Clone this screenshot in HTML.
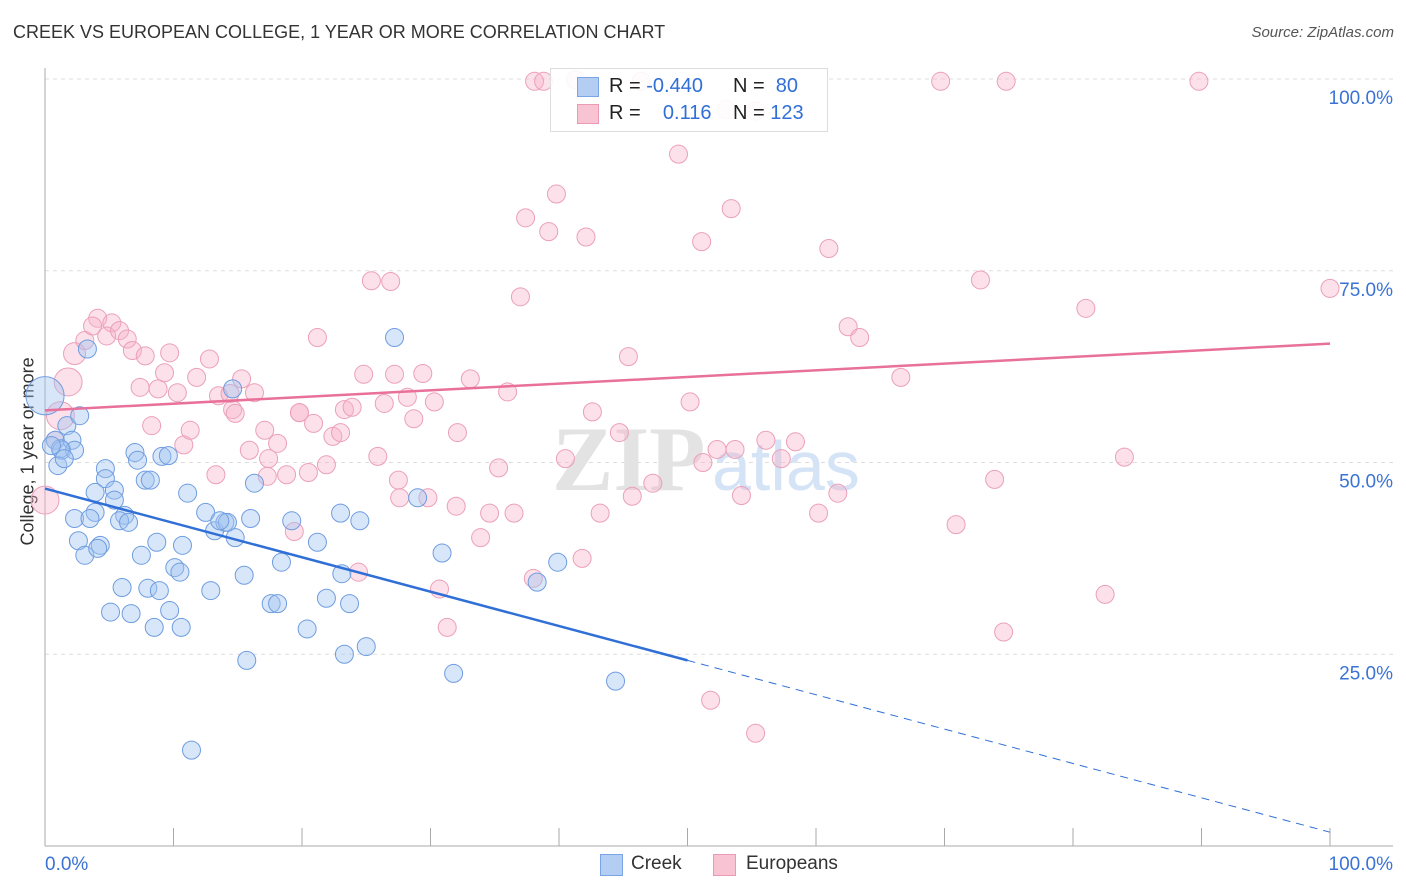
<!DOCTYPE html>
<html><head><meta charset="utf-8">
<style>
body{margin:0;background:#fff;font-family:"Liberation Sans",sans-serif;}
#wrap{position:relative;width:1406px;height:892px;overflow:hidden;}
.t{position:absolute;white-space:nowrap;}
</style></head>
<body>
<div id="wrap">
<div class="t" style="left:13px;top:22px;font-size:18px;color:#333;">CREEK VS EUROPEAN COLLEGE, 1 YEAR OR MORE CORRELATION CHART</div>
<div class="t" style="right:12px;top:24px;font-size:15px;color:#555;font-style:italic;">Source: ZipAtlas.com</div>
<div class="t" style="left:-62px;top:445px;font-size:18px;color:#333;transform:rotate(-90deg);transform-origin:center;width:180px;text-align:center;">College, 1 year or more</div>
<svg id="plot" width="1406" height="892" style="position:absolute;left:0;top:0"></svg>
<div style="position:absolute;left:550px;top:68px;width:276px;height:62px;border:1px solid #ddd;background:rgba(255,255,255,0.9);font-size:20px;">
 <div style="position:absolute;left:26px;top:8px;width:20px;height:18px;background:#b4cdf2;border:1px solid #7aa4e4;"></div>
 <div class="t" style="left:58px;top:6px;color:#222;">R = <span style="color:#2f6fd6">-0.440</span></div>
 <div class="t" style="left:182px;top:6px;color:#222;">N = <span style="color:#2f6fd6">&nbsp;80</span></div>
 <div style="position:absolute;left:26px;top:35px;width:20px;height:18px;background:#f8c4d4;border:1px solid #ec9ab4;"></div>
 <div class="t" style="left:58px;top:33px;color:#222;">R = <span style="color:#2f6fd6">&nbsp;&nbsp;&nbsp;0.116</span></div>
 <div class="t" style="left:182px;top:33px;color:#222;">N = <span style="color:#2f6fd6">123</span></div>
</div>
<div>
 <div style="position:absolute;left:600px;top:854px;width:21px;height:20px;background:#b4cdf2;border:1px solid #7aa4e4;"></div>
 <div class="t" style="left:631px;top:853px;font-size:19px;color:#333;">Creek</div>
</div>
<div>
 <div style="position:absolute;left:713px;top:854px;width:21px;height:20px;background:#f8c4d4;border:1px solid #ec9ab4;"></div>
 <div class="t" style="left:746px;top:853px;font-size:19px;color:#333;">Europeans</div>
</div>
</div>
<script>
const yTicks=[25,50,75,100];
const yTickLabels=["25.0%","50.0%","75.0%","100.0%"];
const xTickCount=10;
const creekX=[0,0.8,1.3,1.7,2.1,2.3,2.7,1.0,3.3,4.7,4.7,3.9,5.4,5.4,3.9,2.3,3.5,6.2,5.8,6.5,2.6,4.3,3.1,4.1,7.0,7.2,7.8,8.2,9.1,9.6,11.1,12.5,13.2,14.0,14.8,14.2,13.6,14.6,16.3,16.0,19.2,21.2,23.0,24.5,27.2,29.0,30.9,39.9,38.3,44.4,7.5,8.7,10.7,10.1,10.5,6.0,8.0,8.9,12.9,15.5,18.4,5.1,6.7,9.7,8.5,10.6,17.6,18.1,21.9,23.7,23.1,20.4,15.7,23.3,25.0,31.8,11.4,1.2,0.5,1.5];
const creekY=[58.7,52.9,51.6,54.8,52.9,51.6,56.1,49.6,64.8,49.2,47.9,46.1,46.4,45.1,43.5,42.7,42.7,43.1,42.4,42.2,39.8,39.2,37.9,38.8,51.3,50.3,47.7,47.7,50.8,50.9,46.0,43.5,41.1,42.2,40.2,42.2,42.4,59.6,47.3,42.7,42.4,39.6,43.4,42.4,66.3,45.4,38.2,37.0,34.4,21.5,37.9,39.6,39.2,36.3,35.7,33.7,33.6,33.3,33.3,35.3,37.0,30.5,30.3,30.7,28.5,28.5,31.6,31.6,32.3,31.6,35.5,28.3,24.2,25.0,26.0,22.5,12.5,51.8,52.2,50.5];
const creekW=[4.5,1,1,1,1,1,1,1,1,1,1,1,1,1,1,1,1,1,1,1,1,1,1,1,1,1,1,1,1,1,1,1,1,1,1,1,1,1,1,1,1,1,1,1,1,1,1,1,1,1,1,1,1,1,1,1,1,1,1,1,1,1,1,1,1,1,1,1,1,1,1,1,1,1,1,1,1,1,1,1];
const euroX=[0,1.8,2.3,1.2,0.8,3.1,4.1,3.7,5.2,4.8,5.8,6.4,6.8,7.8,9.7,7.4,8.8,9.3,10.3,11.8,12.8,13.5,14.4,15.3,16.3,8.3,10.8,11.3,14.6,14.8,13.3,15.9,17.4,18.1,17.3,18.8,19.4,19.8,21.2,20.9,20.5,21.9,22.4,23.0,23.3,23.9,24.8,25.4,26.9,26.4,25.9,27.2,28.2,28.7,27.5,27.6,29.4,30.3,29.8,32.1,32.0,33.1,33.9,34.6,35.3,36.0,36.5,37.0,37.4,38.0,38.1,38.8,39.2,39.8,40.5,41.3,41.8,42.1,42.6,43.2,44.7,45.4,45.7,46.4,47.3,49.3,50.2,51.1,51.2,51.8,52.3,53.0,53.4,53.7,54.2,55.3,56.1,57.3,58.4,60.2,61.0,61.7,62.5,63.4,66.6,69.7,70.9,72.8,73.9,74.8,74.6,81.0,82.5,84.0,89.8,100,30.7,31.3,24.4,55.3,17.1,19.8];
const euroY=[45.1,60.5,64.2,56.1,52.9,65.9,68.8,67.8,68.2,66.5,67.2,66.1,64.6,63.9,64.3,59.8,59.6,61.7,59.1,61.1,63.5,58.7,59.0,60.9,59.1,54.8,52.3,54.2,56.9,56.4,48.4,51.6,50.5,52.5,48.2,48.4,41.0,56.5,66.3,55.1,48.7,49.7,53.4,53.9,56.9,57.2,61.5,73.7,73.6,57.7,50.8,61.5,58.5,55.7,47.7,45.4,61.6,57.9,45.4,53.9,44.3,60.9,40.2,43.4,49.3,59.2,43.4,71.6,81.9,34.9,99.7,99.7,80.1,85.0,50.5,99.9,37.5,79.4,56.6,43.4,53.9,63.8,45.6,99.7,47.3,90.2,57.9,78.8,50.0,19.0,51.7,96.0,83.1,51.7,45.7,14.7,52.9,50.5,52.7,43.4,77.9,46.0,67.7,66.3,61.1,99.7,41.9,73.8,47.8,99.7,27.9,70.1,32.8,50.7,99.7,72.7,33.5,28.5,35.7,95.8,54.2,56.5];
const euroW=[2.4,2.4,1.5,2.4,1,1,1,1,1,1,1,1,1,1,1,1,1,1,1,1,1,1,1,1,1,1,1,1,1,1,1,1,1,1,1,1,1,1,1,1,1,1,1,1,1,1,1,1,1,1,1,1,1,1,1,1,1,1,1,1,1,1,1,1,1,1,1,1,1,1,1,1,1,1,1,1,1,1,1,1,1,1,1,1,1,1,1,1,1,1,1,1,1,1,1,1,1,1,1,1,1,1,1,1,1,1,1,1,1,1,1,1,1,1,1,1,1,1,1,1,1,1];
const creekTrend=[[0,46.6],[50,24.2],[100,1.8]];
const euroTrend=[[0,56.8],[100,65.5]];

const L=45,R=1330,T=79,B=846;
const sx=v=>L+(R-L)*v/100;
const sy=v=>B-(B-T)*v/100;
const svg=document.getElementById('plot');
const NS='http://www.w3.org/2000/svg';
function mk(tag,attrs){const e=document.createElementNS(NS,tag);for(const k in attrs)e.setAttribute(k,attrs[k]);svg.appendChild(e);return e;}

yTicks.forEach((t,i)=>{
 const g=mk('line',{x1:L,x2:1393,y1:sy(t),y2:sy(t),stroke:'#ddd','stroke-dasharray':'4,4'});
 
 
 const tx=mk('text',{x:1393,y:sy(t)+25,'text-anchor':'end','font-size':19,fill:'#3b73d4','font-family':'Liberation Sans'});
 tx.textContent=yTickLabels[i];
 
 
});
const ax=mk('line',{x1:L,x2:L,y1:68,y2:B,stroke:'#aaa'});


const bx=mk('line',{x1:L,x2:1393,y1:B,y2:B,stroke:'#aaa'});


for(let k=1;k<=xTickCount;k++){
 const tk=mk('line',{x1:sx(k*10),x2:sx(k*10),y1:B-18,y2:B,stroke:'#aaa'});
 
 
}
const x0=mk('text',{x:L,y:870,'font-size':19,fill:'#3b73d4','font-family':'Liberation Sans'});x0.textContent='0.0%';


const x1=mk('text',{x:1393,y:870,'text-anchor':'end','font-size':19,fill:'#3b73d4','font-family':'Liberation Sans'});x1.textContent='100.0%';



const wz1=mk('text',{x:552,y:490,'font-size':92,fill:'#e3e3e3','font-family':'Liberation Serif','font-weight':'bold'});wz1.textContent='ZIP';


const wz2=mk('text',{x:712,y:490,'font-size':70,fill:'#d4e3f6','font-family':'Liberation Sans'});wz2.textContent='atlas';



euroX.forEach((x,i)=>{
 const c=mk('circle',{cx:sx(x),cy:sy(euroY[i]),r:9*Math.sqrt(euroW[i]),fill:'rgba(246,176,200,0.38)',stroke:'#eba0b9','stroke-width':1});
 
 
});
creekX.forEach((x,i)=>{
 const c=mk('circle',{cx:sx(x),cy:sy(creekY[i]),r:9*Math.sqrt(creekW[i]),fill:'rgba(160,195,240,0.42)',stroke:'#6f9de0','stroke-width':1});
 
 
});
const bl=mk('line',{x1:sx(creekTrend[0][0]),y1:sy(creekTrend[0][1]),x2:sx(creekTrend[1][0]),y2:sy(creekTrend[1][1]),stroke:'#2f6fd6','stroke-width':2.5});


const bd=mk('line',{x1:sx(creekTrend[1][0]),y1:sy(creekTrend[1][1]),x2:sx(creekTrend[2][0]),y2:sy(creekTrend[2][1]),stroke:'#2f6fd6','stroke-width':1,'stroke-dasharray':'8,6'});


const pl=mk('line',{x1:sx(euroTrend[0][0]),y1:sy(euroTrend[0][1]),x2:sx(euroTrend[1][0]),y2:sy(euroTrend[1][1]),stroke:'#e8709a','stroke-width':2.5});


</script>
</body></html>
